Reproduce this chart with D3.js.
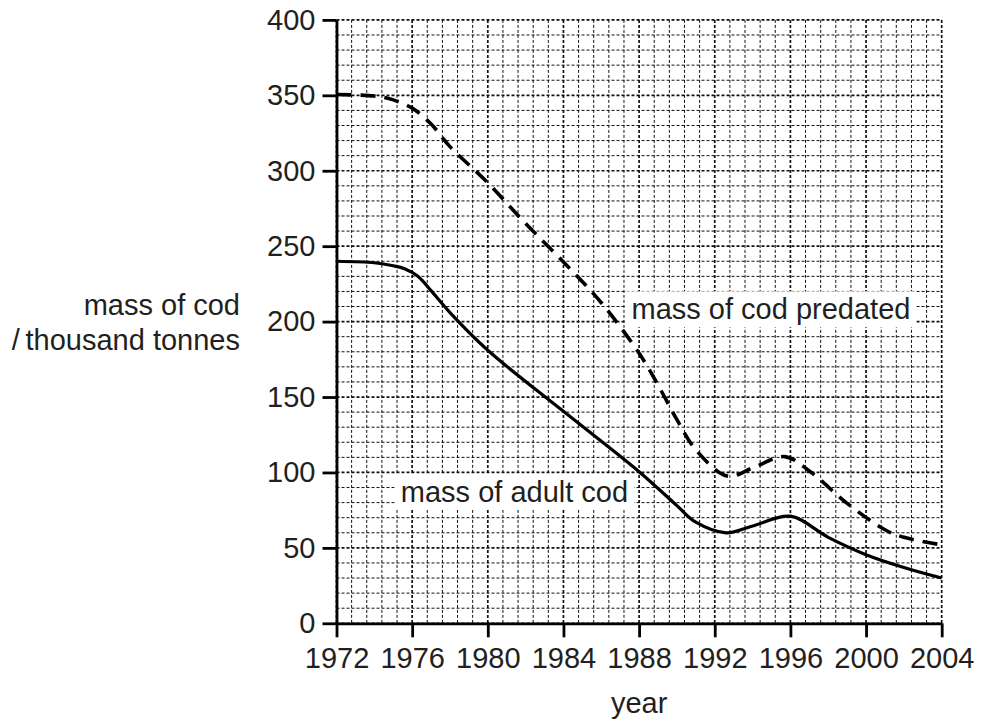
<!DOCTYPE html>
<html>
<head>
<meta charset="utf-8">
<script src="https://cdn.jsdelivr.net/npm/d3@7"></script>
<style>
  body { margin: 0; background: #fff; }
  text { font-family: "Liberation Sans", Arial, Helvetica, sans-serif; fill: #231f20; }
</style>
</head>
<body>
<svg id="chart" width="981" height="724"></svg>
<script>
// chart values
var adultYears = [1972, 1974, 1975, 1975.6, 1976.3, 1977, 1978, 1980, 1984, 1988, 1990, 1991, 1992.6, 1994, 1996, 1998, 2000, 2002, 2004];
var adultMass  = [240, 239, 237, 235, 230, 220.5, 206, 181, 140.5, 100.5, 78, 67, 60, 64.5, 71, 57, 45.5, 37, 30];

var predYears = [1972, 1974, 1975, 1976, 1977, 1978, 1980, 1982, 1984, 1986, 1988, 1989, 1990, 1991, 1992.7, 1994, 1995.7, 1997, 1999, 2001, 2002, 2004];
var predMass  = [350.5, 349.5, 347, 341.5, 331, 316, 292, 265, 239.5, 212.5, 179, 158, 135, 115, 97.5, 103, 110.5, 101, 79.5, 62, 57, 52];

var xTicks = [1972, 1976, 1980, 1984, 1988, 1992, 1996, 2000, 2004];
var yTicks = [0, 50, 100, 150, 200, 250, 300, 350, 400];

var yTitle = ["mass of cod", "/\u2009thousand tonnes"];
var xTitle = "year";
var adultLabel = "mass of adult cod";
var predLabel = "mass of cod predated";

// layout
var fontsize = 29;
var plot = {left: 336.5, top: 19.9, width: 605.2, height: 603.4};

var svg = d3.select("#chart");
var g = svg.append("g").attr("transform", "translate(" + plot.left + "," + plot.top + ")");

var x = d3.scaleLinear().domain([1972, 2004]).range([0, plot.width]);
var y = d3.scaleLinear().domain([0, 400]).range([plot.height, 0]);

// graph paper grid: minor every 0.8 yr / 10 units, major every 4 yr / 50 units
var gridX = d3.range(0, 41).map(function(k){ return 1972 + k * 0.8; });
var gridY = d3.range(0, 41).map(function(k){ return k * 10; });

var grid = g.append("g").attr("name", "grid");
grid.selectAll("line.gx").data(gridX).enter().append("line")
  .attr("x1", function(d){ return x(d); })
  .attr("x2", function(d){ return x(d); })
  .attr("y1", 0).attr("y2", plot.height)
  .attr("stroke", "#111")
  .attr("stroke-width", function(d, i){ return i % 5 === 0 ? 1.7 : 1; })
  .attr("stroke-dasharray", "3,2");
grid.selectAll("line.gy").data(gridY).enter().append("line")
  .attr("y1", function(d){ return y(d); })
  .attr("y2", function(d){ return y(d); })
  .attr("x1", 0).attr("x2", plot.width)
  .attr("stroke", "#111")
  .attr("stroke-width", function(d, i){ return i % 5 === 0 ? 1.7 : 1; })
  .attr("stroke-dasharray", "3,2");

// curves
var adult = adultYears.map(function(d, i){ return [d, adultMass[i]]; });
var pred = predYears.map(function(d, i){ return [d, predMass[i]]; });

var line = d3.line()
  .x(function(d){ return x(d[0]); })
  .y(function(d){ return y(d[1]); })
  .curve(d3.curveCatmullRom.alpha(0.5));

g.append("path").datum(pred)
  .attr("d", line)
  .attr("fill", "none")
  .attr("stroke", "#000")
  .attr("stroke-width", 3.6)
  .attr("stroke-dasharray", "15,9");

g.append("path").datum(adult)
  .attr("d", line)
  .attr("fill", "none")
  .attr("stroke", "#000")
  .attr("stroke-width", 3.2);

// labels on white boxes
function boxedLabel(txt, yr, val){
  var lg = g.append("g");
  var t = lg.append("text")
    .attr("x", x(yr)).attr("y", y(val))
    .attr("font-size", fontsize)
    .text(txt);
  var b = t.node().getBBox();
  lg.insert("rect", "text")
    .attr("x", b.x - 6).attr("y", b.y - 2)
    .attr("width", b.width + 12).attr("height", b.height + 4)
    .attr("fill", "#fff");
}
boxedLabel(adultLabel, 1975.4, 80.5);
boxedLabel(predLabel, 1987.6, 201.5);

// axes
var yAxis = d3.axisLeft(y).tickValues(yTicks).tickSize(14).tickSizeOuter(0).tickPadding(7);
var xAxis = d3.axisBottom(x).tickValues(xTicks).tickFormat(d3.format("d")).tickSize(14).tickSizeOuter(0).tickPadding(10);

var ya = g.append("g").call(yAxis);
var xa = g.append("g").attr("transform", "translate(0," + plot.height + ")").call(xAxis);

[ya, xa].forEach(function(a){
  a.select(".domain").attr("stroke", "#000").attr("stroke-width", 2.8);
  a.selectAll(".tick line").attr("stroke", "#000").attr("stroke-width", 2.8);
  a.selectAll(".tick text")
    .attr("font-size", fontsize)
    .attr("font-family", "Liberation Sans, Arial, sans-serif")
    .attr("fill", "#231f20");
});

// axis titles
svg.append("text")
  .attr("x", plot.left + plot.width / 2)
  .attr("y", 713)
  .attr("text-anchor", "middle")
  .attr("font-size", fontsize)
  .text(xTitle);

svg.append("text")
  .attr("text-anchor", "end")
  .attr("font-size", fontsize)
  .selectAll("tspan").data(yTitle).enter().append("tspan")
  .attr("x", 240)
  .attr("y", function(d, i){ return 315 + i * 35; })
  .text(function(d){ return d; });
</script>
</body>
</html>
